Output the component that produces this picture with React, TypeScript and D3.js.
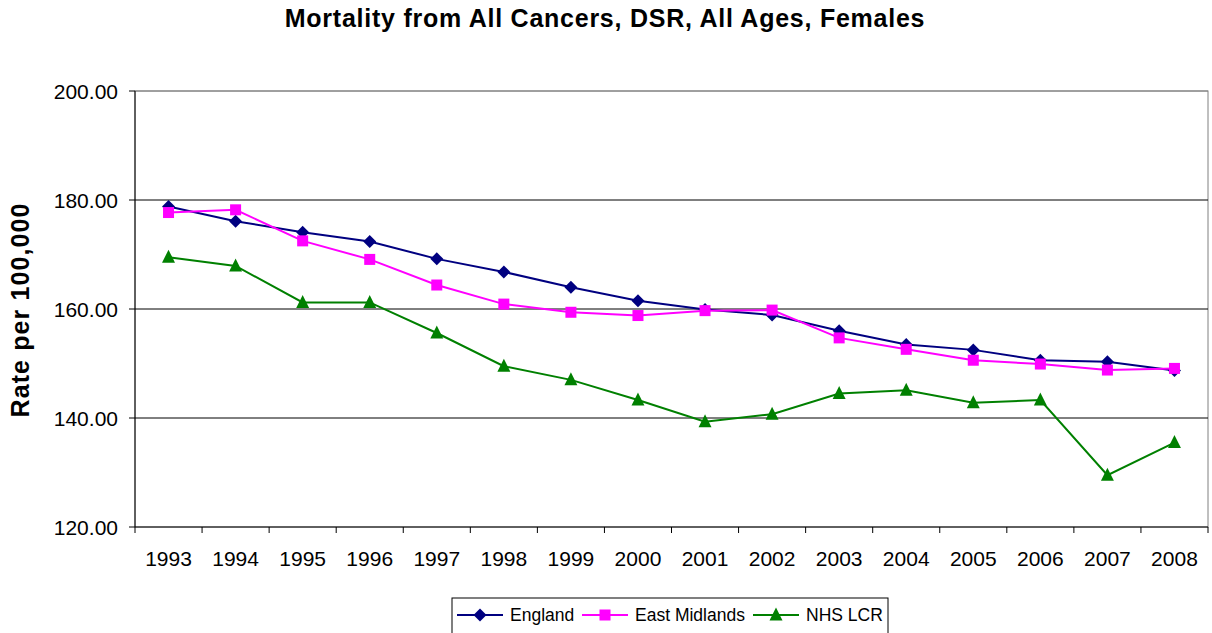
import React from "react";
import * as d3 from "d3";

const years = ["1993","1994","1995","1996","1997","1998","1999","2000","2001","2002","2003","2004","2005","2006","2007","2008"];
const england = [178.8,176.1,174.1,172.4,169.2,166.8,164.0,161.5,159.9,158.9,156.0,153.5,152.5,150.6,150.3,148.7];
const eastMidlands = [177.7,178.2,172.5,169.1,164.4,160.9,159.4,158.8,159.7,159.8,154.7,152.6,150.6,149.9,148.8,149.1];
const nhsLcr = [169.5,167.9,161.2,161.2,155.6,149.5,147.0,143.3,139.3,140.7,144.5,145.1,142.8,143.3,129.5,135.5];
const yTicks = [120,140,160,180,200];

const series = [
  { name: "England", values: england, color: "#000080", marker: "diamond" },
  { name: "East Midlands", values: eastMidlands, color: "#FF00FF", marker: "square" },
  { name: "NHS LCR", values: nhsLcr, color: "#008000", marker: "triangle" },
];

const W = 1212, H = 633;
const left = 135, right = 1208, top = 91, bottom = 527;
const font = "'Liberation Sans', Arial, sans-serif";

function Marker({ type, x, y, color }: { type: string; x: number; y: number; color: string }) {
  if (type === "diamond") {
    const s = 6.5;
    return <path d={`M${x},${y - s}L${x + s},${y}L${x},${y + s}L${x - s},${y}Z`} fill={color} />;
  }
  if (type === "square") {
    const s = 5.5;
    return <rect x={x - s} y={y - s} width={2 * s} height={2 * s} fill={color} />;
  }
  const s = 6.5;
  return <path d={`M${x},${y - s - 1}L${x + s},${y + s - 1}L${x - s},${y + s - 1}Z`} fill={color} />;
}

export default function App() {
  const x = d3.scaleBand().domain(years).range([left, right]);
  const y = d3.scaleLinear().domain([120, 200]).range([bottom, top]);
  const cx = (yr: string) => (x(yr) as number) + x.bandwidth() / 2;
  const line = d3.line<number>().x((_, i) => cx(years[i])).y((v) => y(v));

  const legendItems = [
    { x: 457, textX: 510 },
    { x: 582, textX: 635 },
    { x: 753, textX: 806 },
  ];

  return (
    <svg width={W} height={H} style={{ position: "absolute", left: 0, top: 0, background: "#fff" }}>
      <text x={605} y={27} textAnchor="middle" fontFamily={font} fontWeight="bold" fontSize={25} letterSpacing={0.75}>
        Mortality from All Cancers, DSR, All Ages, Females
      </text>
      <text transform={`translate(29,${310}) rotate(-90)`} textAnchor="middle" fontFamily={font} fontWeight="bold" fontSize={25} letterSpacing={1.1}>
        Rate per 100,000
      </text>
      <rect x={left} y={top} width={right - left} height={bottom - top} fill="none" stroke="#808080" strokeWidth={1} />
      {yTicks.map((t) => (
        <g key={t}>
          {t !== 120 && t !== 200 && <line x1={left} x2={right} y1={y(t)} y2={y(t)} stroke="#000" strokeWidth={1} />}
          <line x1={left - 6} x2={left} y1={y(t)} y2={y(t)} stroke="#000" />
          <text x={118} y={y(t) + 7.5} textAnchor="end" fontFamily={font} fontSize={21}>
            {t.toFixed(2)}
          </text>
        </g>
      ))}
      <line x1={left} x2={right} y1={top} y2={top} stroke="#808080" />
      <line x1={left} x2={left} y1={top} y2={bottom + 6} stroke="#000" />
      <line x1={left} x2={right} y1={bottom} y2={bottom} stroke="#000" />
      {years.map((yr) => (
        <g key={yr}>
          <line x1={(x(yr) as number) + x.bandwidth()} x2={(x(yr) as number) + x.bandwidth()} y1={bottom} y2={bottom + 6} stroke="#000" />
          <text x={cx(yr)} y={566} textAnchor="middle" fontFamily={font} fontSize={21}>
            {yr}
          </text>
        </g>
      ))}
      {series.map((s) => (
        <g key={s.name}>
          <path d={line(s.values) as string} fill="none" stroke={s.color} strokeWidth={2} />
          {s.values.map((v, i) => (
            <Marker key={i} type={s.marker} x={cx(years[i])} y={y(v)} color={s.color} />
          ))}
        </g>
      ))}
      <rect x={452} y={598} width={436} height={40} fill="#fff" stroke="#000" strokeWidth={1} />
      {series.map((s, i) => {
        const li = legendItems[i];
        return (
          <g key={s.name}>
            <line x1={li.x} x2={li.x + 46} y1={615} y2={615} stroke={s.color} strokeWidth={2} />
            <Marker type={s.marker} x={li.x + 23} y={615} color={s.color} />
            <text x={li.textX} y={621} fontFamily={font} fontSize={17.5}>
              {s.name}
            </text>
          </g>
        );
      })}
    </svg>
  );
}
